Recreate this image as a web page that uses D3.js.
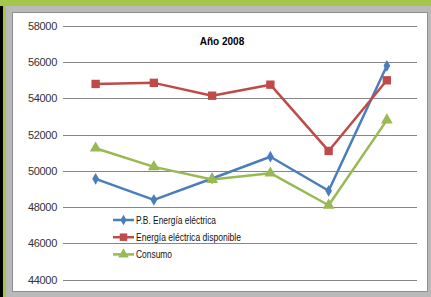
<!DOCTYPE html>
<html>
<head>
<meta charset="utf-8">
<script src="https://cdn.jsdelivr.net/npm/d3@7"></script>
<style>
  body { margin: 0; }
  svg { display: block; font-family: "Liberation Sans", Arial, sans-serif; }
</style>
</head>
<body>
<svg id="chart" width="431" height="297"></svg>
<script>
// datos
var categories = ["1", "2", "3", "4", "5", "6"];
var pbEnergia = [49560, 48400, 49580, 50780, 48900, 55800];
var energiaDisponible = [54800, 54860, 54150, 54760, 51100, 55000];
var consumo = [51250, 50220, 49520, 49870, 48100, 52800];
var yTicks = [44000, 46000, 48000, 50000, 52000, 54000, 56000, 58000];
var seriesNames = ["P.B. Energía eléctrica", "Energía eléctrica disponible", "Consumo"];

var series = [
   { name: seriesNames[0], values: pbEnergia, color: "#4a7ebb", marker: "diamond" },
   { name: seriesNames[1], values: energiaDisponible, color: "#be4b48", marker: "square" },
   { name: seriesNames[2], values: consumo, color: "#98b954", marker: "triangle" },
];

var svg = d3.select("svg#chart");

// marco de fondo
svg.append("rect").attr("width", 431).attr("height", 297).attr("fill", "#b9b9b9");
svg.append("rect").attr("width", 431).attr("height", 6).attr("fill", "#a4c64a");
svg.append("rect").attr("x", 0).attr("y", 6).attr("width", 3).attr("height", 291).attr("fill", "#000");
svg.append("rect").attr("x", 3).attr("y", 6).attr("width", 3).attr("height", 291).attr("fill", "#a4c64a");
svg.append("rect")
   .attr("x", 12.5).attr("y", 12.5).attr("width", 415).attr("height", 279)
   .attr("fill", "#fff").attr("stroke", "#8c8c8c");

var x = d3.scalePoint().domain(categories).range([66.5, 416]).padding(0.5);
var y = d3.scaleLinear().domain([44000, 58000]).range([279.5, 26]);

// lineas de cuadricula
svg.append("g")
   .selectAll("line")
   .data(yTicks)
   .enter()
   .append("line")
   .attr("x1", 63).attr("x2", 417)
   .attr("y1", (d) => Math.round(y(d)) + 0.5)
   .attr("y2", (d) => Math.round(y(d)) + 0.5)
   .attr("stroke", "#868686").attr("stroke-width", 1);

// eje Y
var yAxis = d3.axisLeft(y).tickValues(yTicks).tickSize(0).tickPadding(0).tickFormat(d3.format("d"));
var yAxisG = svg.append("g").attr("transform", "translate(57,0)").call(yAxis);
yAxisG.select(".domain").remove();
yAxisG.selectAll("text")
   .attr("font-size", 11)
   .attr("font-family", "'Liberation Sans', Arial, sans-serif")
   .attr("fill", "#333")
   .attr("letter-spacing", "-0.3");

// titulo
svg.append("text")
   .attr("x", 222).attr("y", 45)
   .attr("text-anchor", "middle")
   .attr("font-size", 10).attr("font-weight", "bold")
   .attr("fill", "#000")
   .text("Año 2008");

var line = d3.line()
   .x((d, i) => x(categories[i]))
   .y((d) => y(d));

function markerPath(type, size) {
   var sym = type === "diamond" ? d3.symbolDiamond : type === "square" ? d3.symbolSquare : d3.symbolTriangle;
   return d3.symbol().type(sym).size(size)();
}
var markerSize = { diamond: 40, square: 70, triangle: 60 };

series.forEach(function (s) {
   var g = svg.append("g");
   g.append("path")
      .datum(s.values)
      .attr("d", line)
      .attr("fill", "none")
      .attr("stroke", s.color)
      .attr("stroke-width", 2.5)
      .attr("stroke-linejoin", "round");
   g.selectAll("path.mk")
      .data(s.values)
      .enter()
      .append("path")
      .attr("class", "mk")
      .attr("d", markerPath(s.marker, markerSize[s.marker]))
      .attr("transform", (d, i) => "translate(" + x(categories[i]) + "," + y(d) + ")")
      .attr("fill", s.color);
});

// leyenda
var legend = svg.append("g").attr("transform", "translate(113,220)");
series.forEach(function (s, i) {
   var row = legend.append("g").attr("transform", "translate(0," + i * 17.2 + ")");
   row.append("line")
      .attr("x1", 0).attr("x2", 21)
      .attr("stroke", s.color).attr("stroke-width", 2.5);
   row.append("path")
      .attr("d", markerPath(s.marker, markerSize[s.marker] * 0.8))
      .attr("transform", "translate(10.5,0)")
      .attr("fill", s.color);
   row.append("text")
      .attr("x", 23).attr("y", 3.5)
      .attr("font-size", 10.5)
      .attr("fill", "#111")
      .attr("textLength", [80, 105, 36][i])
      .attr("lengthAdjust", "spacingAndGlyphs")
      .text(s.name);
});
</script>
</body>
</html>
